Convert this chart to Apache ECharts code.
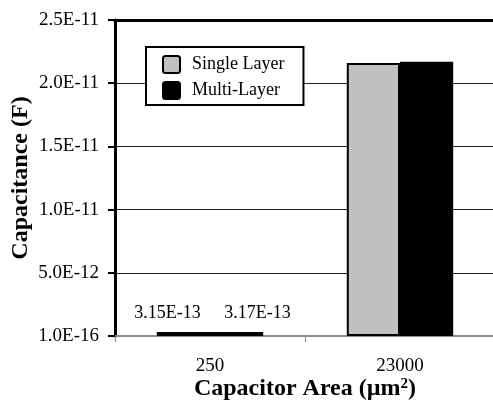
<!DOCTYPE html>
<html>
<head>
<meta charset="utf-8">
<script src="https://cdn.jsdelivr.net/npm/echarts@6/dist/echarts.min.js"></script>
<style>
  html, body { margin: 0; padding: 0; background: #fff; }
  #chart { width: 493px; height: 401px; }
</style>
</head>
<body>
<div id="chart"></div>
<script>
// Capacitance by capacitor area for single- and multi-layer structures
const categories = ['250', '23000'];
const singleLayer = [3.15e-13, 2.16e-11];
const multiLayer = [3.17e-13, 2.17e-11];
const singleLabels = ['3.15E-13', ''];
const multiLabels = ['3.17E-13', ''];
const yTickLabels = ['1.0E-16', '5.0E-12', '1.0E-11', '1.5E-11', '2.0E-11', '2.5E-11'];

const serif = '"Liberation Serif", "Times New Roman", serif';

function withLabels(values, labels, offsetX) {
  return values.map((v, i) => ({
    value: v,
    label: {
      show: labels[i] !== '',
      formatter: labels[i],
      offset: [offsetX, 0]
    }
  }));
}

const chart = echarts.init(document.getElementById('chart'), null, { renderer: 'canvas' });

chart.setOption({
  animation: false,
  backgroundColor: '#ffffff',
  grid: { left: 115, top: 20, width: 380, height: 316, containLabel: false, outerBoundsMode: 'none' },
  legend: {
    orient: 'vertical',
    left: 146,
    top: 47,
    padding: [8, 19, 5, 16],
    itemWidth: 17,
    itemHeight: 17,
    itemGap: 7,
    backgroundColor: '#ffffff',
    borderColor: '#000000',
    borderWidth: 2,
    borderRadius: 0,
    icon: 'path://M3,0 L17,0 Q20,0 20,3 L20,17 Q20,20 17,20 L3,20 Q0,20 0,17 L0,3 Q0,0 3,0 Z',
    textStyle: { fontFamily: serif, fontSize: 18, lineHeight: 17, color: '#000', padding: [0, 0, 0, 7] },
    data: ['Single Layer', 'Multi-Layer']
  },
  xAxis: [
    {
      type: 'category',
      data: categories,
      position: 'bottom',
      axisLine: { lineStyle: { color: '#8c8c8c', width: 2 } },
      axisTick: { show: true, length: 6, lineStyle: { color: '#8c8c8c', width: 1 } },
      axisLabel: { fontFamily: serif, fontSize: 19, color: '#000', margin: 21 },
      name: 'Capacitor Area (\u00b5m{sup|2})',
      nameLocation: 'middle',
      nameGap: 41,
      nameMoveOverlap: false,
      nameTextStyle: {
        fontFamily: serif, fontSize: 24, fontWeight: 'bold', color: '#000',
        rich: { sup: { fontFamily: serif, fontSize: 15, fontWeight: 'bold', verticalAlign: 'top', padding: [0, 0, 9, 0] } }
      }
    },
    {
      type: 'category',
      data: categories,
      position: 'top',
      axisLine: { lineStyle: { color: '#000', width: 3 } },
      axisTick: { show: false },
      axisLabel: { show: false }
    }
  ],
  yAxis: {
    type: 'value',
    min: 0,
    max: 2.5e-11,
    interval: 5e-12,
    axisLine: { show: true, lineStyle: { color: '#000', width: 3 } },
    axisTick: { show: true, length: 7, lineStyle: { color: '#000', width: 2 } },
    axisLabel: {
      fontFamily: serif, fontSize: 19, color: '#000', margin: 16,
      formatter: (v, i) => yTickLabels[i]
    },
    splitLine: { show: true, lineStyle: { color: '#222', width: 1 } },
    name: 'Capacitance (F)',
    nameLocation: 'middle',
    nameGap: 82,
    nameMoveOverlap: false,
    nameRotate: 90,
    nameTextStyle: { fontFamily: serif, fontSize: 24, fontWeight: 'bold', color: '#000' }
  },
  series: [
    {
      name: 'Single Layer',
      type: 'bar',
      barGap: '0%',
      barCategoryGap: '44%',
      itemStyle: { color: '#c0c0c0', borderColor: '#000', borderWidth: 2 },
      label: { position: 'top', distance: 10, fontFamily: serif, fontSize: 18, color: '#000' },
      data: withLabels(singleLayer, singleLabels, -16)
    },
    {
      name: 'Multi-Layer',
      type: 'bar',
      itemStyle: { color: '#000', borderColor: '#000', borderWidth: 2 },
      label: { position: 'top', distance: 10, fontFamily: serif, fontSize: 18, color: '#000' },
      data: withLabels(multiLayer, multiLabels, 21)
    }
  ]
});
</script>
</body>
</html>
